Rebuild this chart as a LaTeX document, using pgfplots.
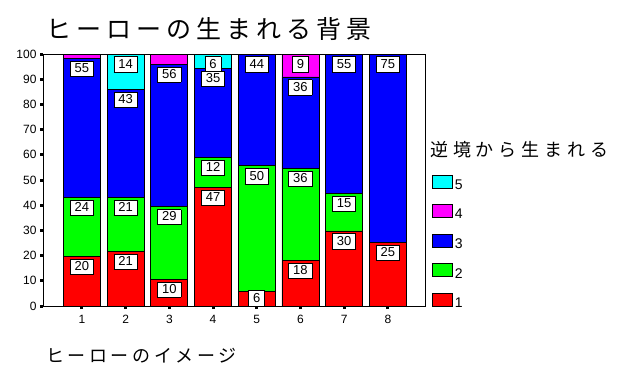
\documentclass[border=0pt]{standalone}
\usepackage{fontspec}
\setmainfont{Liberation Sans}
\newfontfamily\cjk{Noto Sans CJK JP}[LetterSpace=20]
\usepackage{pgfplots}
\pgfplotsset{compat=1.18}
\definecolor{cR}{RGB}{255,0,0}
\definecolor{cG}{RGB}{0,255,0}
\definecolor{cB}{RGB}{0,0,255}
\definecolor{cM}{RGB}{255,0,255}
\definecolor{cC}{RGB}{0,255,255}
\newcommand\segl[1]{\edef\tmp{#1}\ifx\tmp\empty\else{\setlength\fboxsep{0pt}\setlength\fboxrule{0.8pt}\fcolorbox{black}{white}{\fontsize{13}{13}\selectfont\hspace{4pt}\rule[-3.5pt]{0pt}{14.5pt}\tmp\hspace{4pt}}}\fi}
\pgfplotsset{
  toplabel/.style={every node near coord/.append style={yshift={(1.26*\segh-2)*1pt}}},
  toplabelclamp/.style={every node near coord/.append style={yshift={max(1.26*\segh-2,16.1-1.26*\segh)*1pt}}},
}
\begin{document}
\begin{tikzpicture}
\path[use as bounding box] (0,0) rectangle (621pt,373pt);
\begin{axis}[
  at={(43pt,67pt)}, anchor=south west,
  scale only axis, width=382pt, height=252pt,
  xmin=0.108, xmax=8.85, ymin=0, ymax=100,
  ybar stacked, bar width=37pt,
  xtick={1,...,8}, ytick={0,10,...,100},
  xtick pos=left, ytick pos=left,
  tick align=outside,
  major tick length=3pt,
  every tick/.style={black, line width=3pt},
  axis line style={black, line width=0.8pt},
  ticklabel style={font=\fontsize{12}{12}\selectfont},
  xticklabel style={yshift=-3pt},
  /pgf/number format/assume math mode=true,
  point meta=explicit symbolic,
  visualization depends on=rawy \as \segh,
  nodes near coords={\segl{\pgfplotspointmeta}},
  every node near coord/.append style={anchor=north, inner sep=0pt},
  legend image code/.code={\draw[#1,draw=black,line width=0.8pt] (0pt,-3pt) rectangle (20pt,10pt);},
  reverse legend,
  legend cell align=left,
  legend style={at={(axis description cs:1.0183,0.5198)}, anchor=north west,
    draw=none, fill=none, inner sep=0pt, outer sep=0pt,
    row sep=13.5pt, column sep=2pt,
    font=\fontsize{14}{14}\selectfont,
    nodes={inner sep=0pt}},
]
\addplot[fill=cR, draw=black, line width=0.8pt, toplabelclamp] coordinates {(1,19.6)[20] (2,21.6)[21] (3,10.6)[10] (4,47)[47] (5,5.7)[6] (6,18)[18] (7,29.8)[30] (8,25.2)[25]};
\addlegendentry{1}
\addplot[fill=cG, draw=black, line width=0.8pt, toplabel] coordinates {(1,23.4)[24] (2,21.4)[21] (3,28.8)[29] (4,11.9)[12] (5,49.9)[50] (6,36.5)[36] (7,15)[15] (8,0)[]};
\addlegendentry{2}
\addplot[fill=cB, draw=black, line width=0.8pt, toplabel] coordinates {(1,55.2)[55] (2,42.9)[43] (3,56.5)[56] (4,35.3)[35] (5,44.4)[44] (6,36.4)[36] (7,55.2)[55] (8,74.8)[75]};
\addlegendentry{3}
\addplot[fill=cM, draw=black, line width=0.8pt, toplabel] coordinates {(1,1.8)[] (2,0)[] (3,4.1)[] (4,0)[] (5,0)[] (6,9.1)[9] (7,0)[] (8,0)[]};
\addlegendentry{4}
\addplot[fill=cC, draw=black, line width=0.8pt, toplabel] coordinates {(1,0)[] (2,14.1)[14] (3,0)[] (4,5.8)[6] (5,0)[] (6,0)[] (7,0)[] (8,0)[]};
\addlegendentry{5}
\end{axis}
\node[anchor=west, inner sep=0pt] at (46pt,344pt) {\cjk\fontsize{25}{25}\selectfont ヒーローの生まれる背景};
\node[anchor=west, inner sep=0pt] at (46pt,17pt) {\cjk\fontsize{18}{18}\selectfont ヒーローのイメージ};
\node[anchor=west, inner sep=0pt] at (430pt,223pt) {\cjk\addfontfeatures{LetterSpace=27}\fontsize{18}{18}\selectfont 逆境から生まれる};
\end{tikzpicture}
\end{document}
